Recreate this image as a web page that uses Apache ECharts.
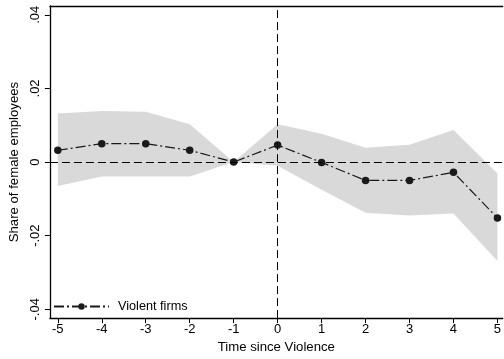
<!DOCTYPE html>
<html>
<head>
<meta charset="utf-8">
<script src="https://cdn.jsdelivr.net/npm/echarts@6/dist/echarts.min.js"></script>
<style>
  html, body { margin: 0; padding: 0; background: #fff; }
  #chart { width: 504px; height: 359px; }
</style>
</head>
<body>
<div id="chart"></div>
<script>
// Event-time coefficients with 95% confidence band
const years = [-5, -4, -3, -2, -1, 0, 1, 2, 3, 4, 5];
const coef = [0.0032, 0.0050, 0.0050, 0.0032, 0.0, 0.0046, -0.0001, -0.0050, -0.0050, -0.0028, -0.0152];
const ciUpper = [0.0132, 0.0139, 0.0137, 0.0103, 0.0, 0.0103, 0.0077, 0.0039, 0.0047, 0.0087, -0.0031];
const ciLower = [-0.0065, -0.0039, -0.0039, -0.0039, 0.0, -0.0010, -0.0075, -0.0138, -0.0145, -0.0140, -0.0269];

const xTicks = [-5, -4, -3, -2, -1, 0, 1, 2, 3, 4, 5];
const yTicks = [-0.04, -0.02, 0, 0.02, 0.04];
const yTickLabels = ['-.04', '-.02', '0', '.02', '.04'];

const FONT = 'Liberation Sans, Arial, sans-serif';

function yLabel(v) {
  for (let i = 0; i < yTicks.length; i++) {
    if (Math.abs(yTicks[i] - v) < 1e-9) return yTickLabels[i];
  }
  return '';
}

const chart = echarts.init(document.getElementById('chart'), null, { renderer: 'canvas' });

chart.setOption({
  animation: false,
  backgroundColor: '#fff',
  textStyle: { fontFamily: FONT },
  grid: { left: 45, right: 0, top: 6, bottom: 34, containLabel: false },
  legend: {
    data: ['Violent firms'],
    left: 53,
    top: 300,
    padding: 0,
    itemWidth: 55,
    itemHeight: 8,
    textStyle: { fontFamily: FONT, fontSize: 12.7, color: '#000', padding: [0, 0, 0, 4] }
  },
  xAxis: [{
    type: 'value',
    min: -5.18,
    max: 5.12,
    name: 'Time since Violence',
    nameLocation: 'middle',
    nameGap: 21,
    nameTextStyle: { fontFamily: FONT, fontSize: 13.2, color: '#000' },
    axisLine: { show: true, onZero: false, lineStyle: { color: '#000', width: 1.3 } },
    axisTick: { show: true, length: 5, customValues: xTicks, lineStyle: { color: '#000', width: 1 } },
    axisLabel: { customValues: xTicks, margin: 5, fontFamily: FONT, fontSize: 13, color: '#000' },
    splitLine: { show: false }
  }, {
    type: 'value',
    position: 'top',
    min: -5.18,
    max: 5.12,
    axisLine: { show: true, onZero: false, lineStyle: { color: '#000', width: 1.3 } },
    axisTick: { show: false },
    axisLabel: { show: false },
    splitLine: { show: false }
  }],
  yAxis: {
    type: 'value',
    min: -0.0424,
    max: 0.0424,
    name: 'Share of female employees',
    nameLocation: 'middle',
    nameGap: 23,
    nameTextStyle: { fontFamily: FONT, fontSize: 13.2, color: '#000' },
    axisLine: { show: true, onZero: false, lineStyle: { color: '#000', width: 1.3 } },
    axisTick: { show: true, length: 5, customValues: yTicks, lineStyle: { color: '#000', width: 1 } },
    axisLabel: {
      customValues: yTicks,
      rotate: 90,
      margin: 8,
      fontFamily: FONT,
      fontSize: 13,
      color: '#000',
      formatter: yLabel
    },
    splitLine: { show: false }
  },
  series: [
    {
      // shaded confidence band
      name: 'band',
      type: 'custom',
      z: 1,
      silent: true,
      clip: true,
      encode: { x: 0, y: [1, 2] },
      data: years.map((x, i) => [x, ciLower[i], ciUpper[i]]),
      renderItem: function (params, api) {
        if (params.dataIndex !== 0) return null;
        const pts = [];
        for (let i = 0; i < years.length; i++) pts.push(api.coord([years[i], ciUpper[i]]));
        for (let i = years.length - 1; i >= 0; i--) pts.push(api.coord([years[i], ciLower[i]]));
        return { type: 'polygon', shape: { points: pts }, style: { fill: '#d9d9d9' } };
      }
    },
    {
      // reference lines at zero
      name: 'ref',
      type: 'line',
      z: 2,
      data: [],
      silent: true,
      markLine: {
        silent: true,
        symbol: 'none',
        label: { show: false },
        lineStyle: { color: '#000', width: 1, type: [8, 4] },
        data: [{ yAxis: 0 }, { xAxis: 0 }]
      }
    },
    {
      name: 'Violent firms',
      type: 'line',
      z: 3,
      data: years.map((x, i) => [x, coef[i]]),
      symbol: 'circle',
      symbolSize: 7.5,
      itemStyle: { color: '#1a1a1a' },
      lineStyle: { color: '#1a1a1a', width: 1.2, type: [10, 3, 2, 3] }
    }
  ]
});
</script>
</body>
</html>
